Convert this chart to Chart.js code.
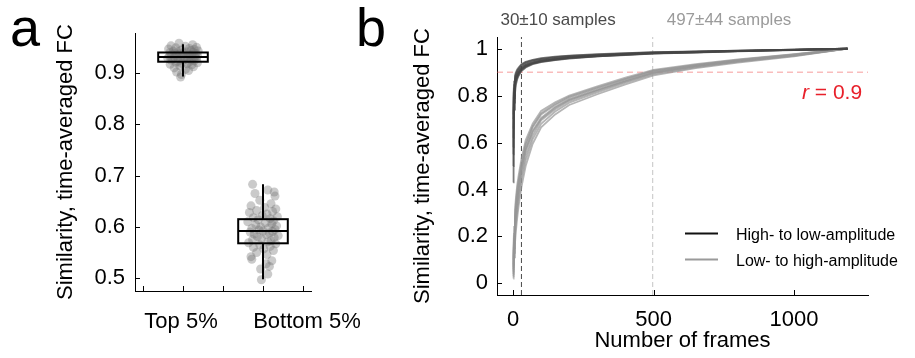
<!DOCTYPE html>
<html>
<head>
<meta charset="utf-8">
<script src="https://cdn.jsdelivr.net/npm/chart.js@4.4.1/dist/chart.umd.min.js"></script>
<style>
  html, body { margin: 0; padding: 0; background: #fff; }
  #wrap { position: relative; width: 915px; height: 358px; overflow: hidden; font-family: "Liberation Sans", Arial, sans-serif; }
  canvas { position: absolute; top: 0; }
  #boxChart { left: 0; }
  #curveChart { left: 380px; }
  .panel { position: absolute; top: 0; font-size: 54px; line-height: 54px; color: #000; }
</style>
</head>
<body>
<div id="wrap">
  <canvas id="boxChart" width="380" height="358"></canvas>
  <canvas id="curveChart" width="535" height="358"></canvas>
  <div class="panel" style="left:10px">a</div>
  <div class="panel" style="left:356px">b</div>
</div>
<script>
const FONT = '"Liberation Sans", Arial, Helvetica, sans-serif';
Chart.defaults.font.family = FONT;
Chart.defaults.color = "#000";

// ---- panel a : box plot data
const groups = ["Top 5%", "Bottom 5%"];
const groupPos = [1, 2];
const boxMin = [0.893, 0.498];
const boxQ1 = [0.922, 0.568];
const boxMed = [0.931, 0.592];
const boxQ3 = [0.940, 0.615];
const boxMax = [0.956, 0.683];
const aTicksX = [0.5, 1, 1.5, 2, 2.5];
const aTicksY = [0.5, 0.6, 0.7, 0.8, 0.9];

const topVals = [0.958, 0.955, 0.953, 0.952, 0.950, 0.949, 0.948, 0.947, 0.946, 0.945,
  0.944, 0.943, 0.943, 0.942, 0.941, 0.940, 0.940, 0.939, 0.938, 0.938,
  0.937, 0.936, 0.936, 0.935, 0.935, 0.934, 0.934, 0.933, 0.933, 0.932,
  0.932, 0.931, 0.931, 0.930, 0.930, 0.929, 0.929, 0.928, 0.928, 0.927,
  0.926, 0.925, 0.925, 0.924, 0.923, 0.922, 0.921, 0.920, 0.919, 0.918,
  0.917, 0.916, 0.914, 0.912, 0.910, 0.907, 0.905, 0.902, 0.897, 0.892];
const topJitter = [-0.05, 0.12, -0.15, 0.03, 0.17, -0.09, 0.08, -0.18, 0.14, -0.02,
  0.10, -0.12, 0.19, -0.06, 0.05, -0.16, 0.13, 0.00, -0.10, 0.16,
  -0.04, 0.07, -0.14, 0.11, -0.08, 0.18, -0.01, 0.09, -0.17, 0.04,
  0.15, -0.11, 0.02, -0.07, 0.12, -0.19, 0.06, 0.17, -0.03, -0.13,
  0.10, 0.01, -0.15, 0.14, -0.06, 0.08, -0.09, 0.18, -0.02, 0.05,
  -0.16, 0.11, -0.04, 0.13, -0.11, 0.03, 0.07, -0.08, -0.02, -0.03];

const bottomVals = [0.683, 0.672, 0.668, 0.665, 0.660, 0.652, 0.645, 0.641, 0.638, 0.635,
  0.632, 0.630, 0.628, 0.625, 0.622, 0.620, 0.618, 0.616, 0.614, 0.612,
  0.610, 0.608, 0.606, 0.604, 0.602, 0.600, 0.598, 0.597, 0.595, 0.594,
  0.592, 0.591, 0.590, 0.588, 0.586, 0.585, 0.583, 0.581, 0.579, 0.577,
  0.575, 0.573, 0.571, 0.569, 0.567, 0.565, 0.562, 0.560, 0.557, 0.554,
  0.550, 0.546, 0.542, 0.537, 0.534, 0.528, 0.523, 0.518, 0.508, 0.497];
const bottomJitter = [-0.13, 0.06, 0.14, -0.10, 0.15, -0.04, 0.10, -0.15, 0.02, 0.16,
  -0.08, 0.12, -0.17, 0.05, -0.01, 0.18, -0.12, 0.09, -0.06, 0.13,
  -0.19, 0.03, 0.11, -0.09, 0.17, -0.03, 0.07, -0.14, 0.15, -0.05,
  0.00, 0.12, -0.16, 0.08, -0.11, 0.04, 0.19, -0.07, 0.14, -0.02,
  -0.13, 0.10, 0.06, -0.18, 0.16, -0.04, 0.09, -0.12, 0.01, 0.13,
  -0.08, 0.05, -0.15, -0.14, 0.11, 0.04, 0.08, -0.03, 0.06, -0.02];

// ---- panel b : convergence curves
const frames = [1, 2, 4, 7, 10, 15, 20, 30, 45, 70, 100, 150, 200, 300, 400, 500, 650, 800, 1000, 1190];
const highToLow = [
  [0.43, 0.62, 0.74, 0.81, 0.845, 0.87, 0.885, 0.905, 0.92, 0.934, 0.943, 0.952, 0.958, 0.967, 0.973, 0.979, 0.984, 0.989, 0.994, 1.0],
  [0.55, 0.70, 0.79, 0.845, 0.865, 0.882, 0.895, 0.912, 0.926, 0.938, 0.946, 0.955, 0.961, 0.969, 0.975, 0.980, 0.985, 0.990, 0.995, 1.0],
  [0.62, 0.74, 0.815, 0.858, 0.875, 0.89, 0.902, 0.918, 0.931, 0.942, 0.950, 0.958, 0.964, 0.971, 0.977, 0.982, 0.987, 0.991, 0.995, 1.0],
  [0.66, 0.77, 0.83, 0.865, 0.882, 0.897, 0.908, 0.924, 0.936, 0.946, 0.953, 0.961, 0.966, 0.973, 0.978, 0.983, 0.988, 0.991, 0.996, 1.0],
  [0.70, 0.79, 0.845, 0.875, 0.89, 0.905, 0.915, 0.93, 0.941, 0.950, 0.957, 0.964, 0.969, 0.975, 0.980, 0.984, 0.988, 0.992, 0.996, 1.0],
  [0.58, 0.72, 0.80, 0.85, 0.87, 0.886, 0.898, 0.915, 0.929, 0.940, 0.948, 0.956, 0.962, 0.970, 0.976, 0.981, 0.986, 0.990, 0.995, 1.0],
  [0.72, 0.81, 0.86, 0.885, 0.898, 0.912, 0.92, 0.934, 0.944, 0.953, 0.960, 0.966, 0.971, 0.977, 0.981, 0.985, 0.989, 0.992, 0.996, 1.0],
  [0.50, 0.66, 0.77, 0.83, 0.858, 0.878, 0.89, 0.909, 0.923, 0.936, 0.945, 0.953, 0.960, 0.968, 0.974, 0.980, 0.985, 0.990, 0.995, 1.0]
];
const lowToHigh = [
  [0.10, 0.17, 0.24, 0.31, 0.36, 0.42, 0.46, 0.53, 0.61, 0.68, 0.735, 0.772, 0.800, 0.840, 0.877, 0.910, 0.934, 0.954, 0.977, 1.0],
  [0.07, 0.13, 0.20, 0.27, 0.32, 0.38, 0.43, 0.50, 0.585, 0.665, 0.720, 0.760, 0.792, 0.832, 0.870, 0.905, 0.930, 0.951, 0.975, 1.0],
  [0.05, 0.11, 0.17, 0.24, 0.29, 0.35, 0.40, 0.48, 0.565, 0.650, 0.705, 0.752, 0.785, 0.826, 0.865, 0.900, 0.927, 0.948, 0.973, 1.0],
  [0.04, 0.09, 0.15, 0.22, 0.27, 0.33, 0.38, 0.46, 0.545, 0.630, 0.695, 0.742, 0.778, 0.820, 0.860, 0.896, 0.924, 0.946, 0.971, 1.0],
  [0.03, 0.08, 0.13, 0.20, 0.25, 0.31, 0.36, 0.44, 0.525, 0.615, 0.680, 0.732, 0.770, 0.814, 0.855, 0.892, 0.921, 0.944, 0.970, 1.0],
  [0.02, 0.06, 0.11, 0.17, 0.22, 0.28, 0.33, 0.41, 0.500, 0.595, 0.665, 0.720, 0.760, 0.806, 0.848, 0.886, 0.917, 0.941, 0.968, 1.0],
  [0.06, 0.12, 0.19, 0.25, 0.30, 0.36, 0.41, 0.49, 0.570, 0.645, 0.700, 0.748, 0.782, 0.823, 0.862, 0.898, 0.926, 0.947, 0.972, 1.0],
  [0.08, 0.14, 0.21, 0.28, 0.34, 0.40, 0.44, 0.51, 0.595, 0.670, 0.725, 0.765, 0.796, 0.835, 0.872, 0.907, 0.931, 0.952, 0.976, 1.0]
];
const seriesNames = ["High- to low-amplitude", "Low- to high-amplitude"];
const crossFrames = [30, 497];
const crossText = ["30±10 samples", "497±44 samples"];
const rThreshold = 0.9;
const bTicksX = [0, 500, 1000];
const bTicksY = [0, 0.2, 0.4, 0.6, 0.8, 1];

// ---------------------------------------------------------
// small plugins
// ---------------------------------------------------------
const inwardTicks = {
  id: "inwardTicks",
  afterDraw(chart) {
    const { ctx, chartArea: ca, scales } = chart;
    ctx.save();
    ctx.strokeStyle = "#000";
    ctx.lineWidth = 1;
    scales.x.ticks.forEach((t) => {
      const px = Math.round(scales.x.getPixelForValue(t.value)) + 0.5;
      ctx.beginPath();
      ctx.moveTo(px, ca.bottom);
      ctx.lineTo(px, ca.bottom - 5);
      ctx.stroke();
    });
    scales.y.ticks.forEach((t) => {
      const py = Math.round(scales.y.getPixelForValue(t.value)) + 0.5;
      ctx.beginPath();
      ctx.moveTo(ca.left, py);
      ctx.lineTo(ca.left + 5, py);
      ctx.stroke();
    });
    ctx.restore();
  },
};

const labelShift = [-2, 44];
const boxPlot = {
  id: "boxPlot",
  afterDatasetsDraw(chart) {
    const { ctx, scales: { x, y } } = chart;
    ctx.save();
    ctx.strokeStyle = "#000";
    ctx.lineWidth = 2;
    groupPos.forEach((p, i) => {
      const cx = x.getPixelForValue(p);
      const half = x.getPixelForValue(p + 0.31) - cx;
      const top = y.getPixelForValue(boxQ3[i]);
      const bot = y.getPixelForValue(boxQ1[i]);
      const med = y.getPixelForValue(boxMed[i]);
      ctx.beginPath();
      ctx.moveTo(cx, y.getPixelForValue(boxMax[i]));
      ctx.lineTo(cx, top);
      ctx.moveTo(cx, bot);
      ctx.lineTo(cx, y.getPixelForValue(boxMin[i]));
      ctx.stroke();
      ctx.strokeRect(cx - half, top, half * 2, bot - top);
      ctx.beginPath();
      ctx.moveTo(cx - half, med);
      ctx.lineTo(cx + half, med);
      ctx.stroke();
    });
    // category labels
    ctx.fillStyle = "#000";
    ctx.font = "22px " + FONT;
    ctx.textAlign = "center";
    ctx.textBaseline = "alphabetic";
    groups.forEach((g, i) => {
      ctx.fillText(g, x.getPixelForValue(groupPos[i]) + labelShift[i], 328);
    });
    ctx.restore();
  },
};

const curveNotes = {
  id: "curveNotes",
  afterDraw(chart) {
    const { ctx, scales: { x, y } } = chart;
    ctx.save();
    ctx.font = "17px " + FONT;
    ctx.textBaseline = "alphabetic";
    ctx.textAlign = "left";
    ctx.fillStyle = "#4a4a4a";
    ctx.fillText(crossText[0], x.getPixelForValue(crossFrames[0]) - 21, 25);
    ctx.fillStyle = "#9b9b9b";
    ctx.fillText(crossText[1], x.getPixelForValue(crossFrames[1]) + 14, 25);

    // r = 0.9
    const ry = y.getPixelForValue(rThreshold) + 27;
    ctx.fillStyle = "#e8202a";
    ctx.font = "italic 21px " + FONT;
    ctx.fillText("r", 422, ry);
    ctx.font = "21px " + FONT;
    ctx.fillText(" = " + rThreshold, 429, ry);

    // legend
    const legendColors = ["#111111", "#9a9a9a"];
    ctx.font = "16px " + FONT;
    seriesNames.forEach((name, i) => {
      const ly = 233.5 + i * 26;
      ctx.strokeStyle = legendColors[i];
      ctx.lineWidth = 2;
      ctx.beginPath();
      ctx.moveTo(305, ly);
      ctx.lineTo(338, ly);
      ctx.stroke();
      ctx.fillStyle = "#000";
      ctx.fillText(name, 356, ly + 6);
    });
    ctx.restore();
  },
};

const fixedTicks = (vals) => (s) => { s.ticks = vals.map((v) => ({ value: v })); };

// ---------------------------------------------------------
// panel a
// ---------------------------------------------------------
const pointsA = [
  ...topVals.map((v, i) => ({ x: groupPos[0] + topJitter[i], y: v })),
  ...bottomVals.map((v, i) => ({ x: groupPos[1] + bottomJitter[i], y: v })),
];

new Chart(document.getElementById("boxChart"), {
  type: "scatter",
  data: {
    datasets: [{
      data: pointsA,
      pointRadius: 4.5,
      pointBorderWidth: 0,
      pointBackgroundColor: "rgba(115,115,115,0.38)",
    }],
  },
  options: {
    responsive: false,
    animation: false,
    events: [],
    layout: { padding: { left: 0, top: 33, right: 69, bottom: 0 } },
    plugins: { legend: { display: false }, tooltip: { enabled: false } },
    scales: {
      x: {
        type: "linear",
        min: 0.4,
        max: 2.6,
        grid: { display: false, drawTicks: false },
        border: { display: true, color: "#000", width: 1 },
        ticks: { display: false },
        afterBuildTicks: fixedTicks(aTicksX),
        afterFit: (s) => { s.height = 67; },
      },
      y: {
        type: "linear",
        min: 0.475,
        max: 0.978,
        grid: { display: false, drawTicks: false },
        border: { display: true, color: "#000", width: 1 },
        ticks: {
          padding: 10,
          font: { size: 22 },
          callback: (v) => v.toFixed(1),
        },
        afterBuildTicks: fixedTicks(aTicksY),
        title: {
          display: true,
          text: "Similarity, time-averaged FC",
          font: { size: 22 },
          padding: { top: 53, bottom: 0 },
        },
        afterFit: (s) => { s.width = 135; },
      },
    },
  },
  plugins: [boxPlot, inwardTicks],
});

// ---------------------------------------------------------
// panel b
// ---------------------------------------------------------
const X_MIN = -57, X_MAX = 1263, Y_MIN = -0.05, Y_MAX = 1.05;

const datasetsB = [];
highToLow.forEach((c) => {
  datasetsB.push({
    data: frames.map((f, i) => ({ x: f, y: c[i] })),
    borderColor: "rgba(70,70,70,0.7)",
    borderWidth: 1.8,
    order: 1,
  });
});
lowToHigh.forEach((c) => {
  datasetsB.push({
    data: frames.map((f, i) => ({ x: f, y: c[i] })),
    borderColor: "rgba(150,150,150,0.7)",
    borderWidth: 1.8,
    order: 2,
  });
});
datasetsB.push({
  data: [{ x: X_MIN, y: rThreshold }, { x: X_MAX, y: rThreshold }],
  borderColor: "rgba(240,90,90,0.6)",
  borderWidth: 1,
  borderDash: [6, 4],
  order: 3,
});
datasetsB.push({
  data: [{ x: crossFrames[0], y: Y_MIN }, { x: crossFrames[0], y: Y_MAX }],
  borderColor: "#4a4a4a",
  borderWidth: 1,
  borderDash: [5, 3],
  order: 3,
});
datasetsB.push({
  data: [{ x: crossFrames[1], y: Y_MIN }, { x: crossFrames[1], y: Y_MAX }],
  borderColor: "#c4c4c4",
  borderWidth: 1,
  borderDash: [5, 3],
  order: 3,
});

new Chart(document.getElementById("curveChart"), {
  type: "scatter",
  data: { datasets: datasetsB.map((d) => ({ ...d, showLine: true, pointRadius: 0, tension: 0 })) },
  options: {
    responsive: false,
    animation: false,
    events: [],
    layout: { padding: { left: 0, top: 37, right: 47, bottom: 0 } },
    plugins: { legend: { display: false }, tooltip: { enabled: false } },
    scales: {
      x: {
        type: "linear",
        min: X_MIN,
        max: X_MAX,
        grid: { display: false, drawTicks: false },
        border: { display: true, color: "#000", width: 1 },
        ticks: { padding: 12, font: { size: 22 }, maxRotation: 0, callback: (v) => String(v) },
        afterBuildTicks: fixedTicks(bTicksX),
        title: {
          display: true,
          text: "Number of frames",
          font: { size: 22 },
          padding: { top: 0, bottom: 4 },
        },
        afterFit: (s) => { s.height = 63; },
      },
      y: {
        type: "linear",
        min: Y_MIN,
        max: Y_MAX,
        grid: { display: false, drawTicks: false },
        border: { display: true, color: "#000", width: 1 },
        ticks: {
          padding: 9,
          font: { size: 22 },
          callback: (v) => String(+v.toFixed(1)),
        },
        afterBuildTicks: fixedTicks(bTicksY),
        title: {
          display: true,
          text: "Similarity, time-averaged FC",
          font: { size: 22 },
          padding: { top: 30, bottom: 0 },
        },
        afterFit: (s) => { s.width = 117; },
      },
    },
  },
  plugins: [curveNotes, inwardTicks],
});
</script>
</body>
</html>
